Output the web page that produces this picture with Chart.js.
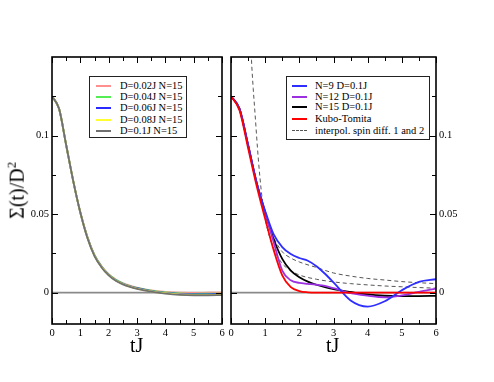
<!DOCTYPE html>
<html>
<head>
<meta charset="utf-8">
<script src="https://cdn.jsdelivr.net/npm/chart.js@4.4.1/dist/chart.umd.min.js"></script>
<style>
  html, body { margin: 0; padding: 0; background: #fff; }
  #wrap { position: relative; width: 494px; height: 382px; overflow: hidden; font-family: "Liberation Serif", "DejaVu Serif", serif; }
  canvas { position: absolute; left: 0; top: 0; }
  .txt { position: absolute; white-space: nowrap; color: #000; }
  .legend { position: absolute; border: 1px solid #222; background: #fff; font-size: 10.5px; }
  .legend .row { position: absolute; left: 0; height: 11px; line-height: 11px; }
  .legend .smp { position: absolute; top: 5px; width: 15px; border-top: 2px solid #000; }
  .legend .lbl { position: absolute; top: 0; }
</style>
</head>
<body>
<div id="wrap">
  <canvas id="left" width="494" height="382"></canvas>
  <canvas id="right" width="494" height="382"></canvas>
  <div class="txt" id="ytitle" style="left:-14px; top:178px; font-size:20px; transform: rotate(-90deg); transform-origin: 50% 50%; width:60px; text-align:center;">Σ(t)/D<sup style="font-size:13px">2</sup></div>
  <div class="txt" style="left:130px; top:334px; font-size:20px;">tJ</div>
  <div class="txt" style="left:326px; top:334px; font-size:20px;">tJ</div>
  <div class="legend" id="legL" style="left:89px; top:76px; width:96px; height:60px;"></div>
  <div class="legend" id="legR" style="left:286px; top:76px; width:142px; height:62px;"></div>
</div>
<script>
// time grid shared by the solid curves
const tGrid = [0, 0.25, 0.5, 0.75, 1, 1.25, 1.5, 1.75, 2, 2.25, 2.5, 2.75, 3, 3.5, 4, 4.5, 5, 5.5, 6];

// left panel, N=15, several D
const leftLabels = ['D=0.02J N=15', 'D=0.04J N=15', 'D=0.06J N=15', 'D=0.08J N=15', 'D=0.1J N=15'];
const leftColors = ['#ff8f8f', '#55ee55', '#2a2aff', '#ffff30', '#707070'];
const d002 = [0.125, 0.117, 0.094, 0.071, 0.051, 0.0355, 0.0240, 0.0168, 0.0117, 0.0083, 0.0060, 0.0044, 0.0032, 0.0014, 0.0004, -0.0001, -0.0002, -0.0001, 0.0000];
const d004 = [0.125, 0.117, 0.094, 0.071, 0.051, 0.0353, 0.0238, 0.0166, 0.0115, 0.0081, 0.0058, 0.0042, 0.0030, 0.0012, 0.0001, -0.0005, -0.0008, -0.0007, -0.0006];
const d006 = [0.125, 0.117, 0.094, 0.071, 0.051, 0.0351, 0.0236, 0.0164, 0.0113, 0.0079, 0.0056, 0.0040, 0.0028, 0.0010, -0.0002, -0.0009, -0.0012, -0.0011, -0.0010];
const d008 = [0.125, 0.117, 0.094, 0.071, 0.051, 0.0349, 0.0234, 0.0162, 0.0111, 0.0077, 0.0054, 0.0038, 0.0026, 0.0008, -0.0004, -0.0012, -0.0015, -0.0015, -0.0014];
const d010 = [0.125, 0.117, 0.094, 0.071, 0.051, 0.0347, 0.0232, 0.0160, 0.0109, 0.0075, 0.0052, 0.0036, 0.0024, 0.0006, -0.0006, -0.0014, -0.0017, -0.0017, -0.0016];

// right panel, D=0.1J, several N
const rightLabels = ['N=9 D=0.1J', 'N=12 D=0.1J', 'N=15 D=0.1J', 'Kubo-Tomita', 'interpol. spin diff. 1 and 2'];
const n9  = [0.125, 0.117, 0.094, 0.070, 0.052, 0.037, 0.029, 0.0245, 0.022, 0.0203, 0.0168, 0.0120, 0.0065, -0.0050, -0.0089, -0.0055, 0.0015, 0.0068, 0.0085];
const n12 = [0.125, 0.117, 0.094, 0.070, 0.051, 0.032, 0.0140, 0.0078, 0.0062, 0.0056, 0.0050, 0.0042, 0.0028, -0.0004, -0.0020, -0.0030, -0.0018, 0.0005, 0.0025];
const n15 = [0.125, 0.117, 0.094, 0.070, 0.051, 0.034, 0.0215, 0.0140, 0.0098, 0.0070, 0.0050, 0.0034, 0.0022, 0.0004, -0.0012, -0.0020, -0.0022, -0.0022, -0.0021];
const kubo = [0.125, 0.116, 0.092, 0.068, 0.047, 0.027, 0.0110, 0.0035, 0.0010, 0.0002, 0, 0, 0, 0, 0, 0, 0, 0, 0];

// dashed interpolation curves, own time grids
const tDashA = [0.9, 1, 1.25, 1.5, 1.75, 2, 2.5, 3, 3.5, 4, 4.5, 5, 5.5, 6];
const dashA  = [0.060, 0.050, 0.035, 0.026, 0.022, 0.0195, 0.0160, 0.0125, 0.0105, 0.0090, 0.0080, 0.0070, 0.0063, 0.0057];
const tDashB = [0.55, 0.6, 0.65, 0.7, 0.8, 0.9, 1, 1.25, 1.5, 1.75, 2, 2.5, 3, 3.5, 4, 4.5, 5, 5.5, 6];
const dashB  = [0.175, 0.148, 0.130, 0.115, 0.085, 0.062, 0.047, 0.028, 0.0185, 0.0140, 0.0112, 0.0085, 0.0068, 0.0057, 0.0049, 0.0042, 0.0037, 0.0032, 0.0028];

const xTicks = [0, 1, 2, 3, 4, 5, 6];
const yTicks = [0, 0.05, 0.1];

function pts(ts, vs) { return ts.map((t, i) => ({ x: t, y: vs[i] })); }

function curve(data, color, extra) {
  return Object.assign({
    data: data, borderColor: color, borderWidth: 1.8, pointRadius: 0,
    cubicInterpolationMode: 'monotone', fill: false,
  }, extra || {});
}

const zeroLine = () => curve([{ x: 0, y: 0 }, { x: 6, y: 0 }], '#8a8a8a', { borderWidth: 1.6, order: 99 });

// inward tick marks on all four sides plus the frame
const frameTicks = {
  id: 'frameTicks',
  afterDatasetsDraw(chart) {
    const { ctx, chartArea: a, scales: { x, y } } = chart;
    ctx.save();
    ctx.strokeStyle = '#000';
    ctx.lineWidth = 1;
    ctx.beginPath();
    for (let i = 0; i <= 12; i++) {
      const px = Math.round(x.getPixelForValue(i / 2)) + 0.5;
      const len = i % 2 ? 4 : 6;
      ctx.moveTo(px, a.bottom); ctx.lineTo(px, a.bottom - len);
      ctx.moveTo(px, a.top); ctx.lineTo(px, a.top + len);
    }
    for (let i = 0; i <= 5; i++) {
      const py = Math.round(y.getPixelForValue(i * 0.025)) + 0.5;
      const len = i % 2 ? 4 : 6;
      ctx.moveTo(a.left, py); ctx.lineTo(a.left + len, py);
      ctx.moveTo(a.right, py); ctx.lineTo(a.right - len, py);
    }
    ctx.stroke();
    ctx.lineWidth = 1.6;
    ctx.strokeRect(a.left, a.top, a.right - a.left, a.bottom - a.top);
    ctx.restore();
  }
};

function baseOptions(yPos, padding, yWidth) {
  const font = { family: '"Liberation Serif", serif', size: 10.5 };
  return {
    responsive: false, animation: false, events: [],
    layout: { padding: padding },
    plugins: { legend: { display: false }, tooltip: { enabled: false } },
    scales: {
      x: {
        type: 'linear', min: 0, max: 6,
        afterBuildTicks: s => { s.ticks = xTicks.map(v => ({ value: v })); },
        afterFit: s => { s.height = 58; },
        grid: { display: false, drawTicks: false }, border: { display: false },
        ticks: { color: '#000', font: font, padding: 3, maxRotation: 0, callback: v => String(v) },
      },
      y: {
        type: 'linear', position: yPos, min: -0.02, max: 0.15,
        afterBuildTicks: s => { s.ticks = yTicks.map(v => ({ value: v })); },
        afterFit: s => { s.width = yWidth; },
        grid: { display: false, drawTicks: false }, border: { display: false },
        ticks: { color: '#000', font: font, padding: 3, callback: v => (Math.abs(v) < 1e-9 ? '0' : String(+v.toFixed(2))) },
      },
    },
  };
}

const leftSets = [d002, d004, d006, d008, d010].map((arr, i) =>
  curve(pts(tGrid, arr), leftColors[i], { order: 10 - i }));
leftSets.push(zeroLine());

new Chart(document.getElementById('left'), {
  type: 'line',
  data: { datasets: leftSets },
  options: baseOptions('left', { top: 57, left: 0, right: 272, bottom: 0 }, 52),
  plugins: [frameTicks],
});

const rightColors = ['#2e2eff', '#9b30e0', '#000000', '#ff0000', '#555555'];
const rightSets = [
  curve(pts(tGrid, n9), rightColors[0], { order: 2 }),
  curve(pts(tGrid, n12), rightColors[1], { order: 3 }),
  curve(pts(tGrid, n15), rightColors[2], { order: 4 }),
  curve(pts(tGrid, kubo), rightColors[3], { order: 1 }),
  curve(pts(tDashA, dashA), rightColors[4], { borderWidth: 1, borderDash: [4, 3], order: 6 }),
  curve(pts(tDashB, dashB), rightColors[4], { borderWidth: 1, borderDash: [4, 3], order: 6 }),
  zeroLine(),
];

new Chart(document.getElementById('right'), {
  type: 'line',
  data: { datasets: rightSets },
  options: baseOptions('right', { top: 57, left: 231, right: 0, bottom: 0 }, 58),
  plugins: [frameTicks],
});

// legends as plain text boxes
function buildLegend(id, labels, colors, dashedLast, smpLeft, lblLeft, rowTops) {
  const box = document.getElementById(id);
  box.innerHTML = labels.map((l, i) => {
    const style = (dashedLast && i === labels.length - 1) ? 'border-top:1px dashed ' + colors[i] + ';' : 'border-top:2px solid ' + colors[i] + ';';
    return `<div class="row" style="top:${rowTops[i]}px; width:100%">
      <div class="smp" style="left:${smpLeft}px; ${style}"></div>
      <div class="lbl" style="left:${lblLeft}px">${l}</div></div>`;
  }).join('');
}
buildLegend('legL', leftLabels, leftColors, false, 6, 30, [3, 14, 25, 37, 48]);
buildLegend('legR', rightLabels, rightColors, true, 5, 28, [3, 14, 24, 36, 48]);
</script>
</body>
</html>
